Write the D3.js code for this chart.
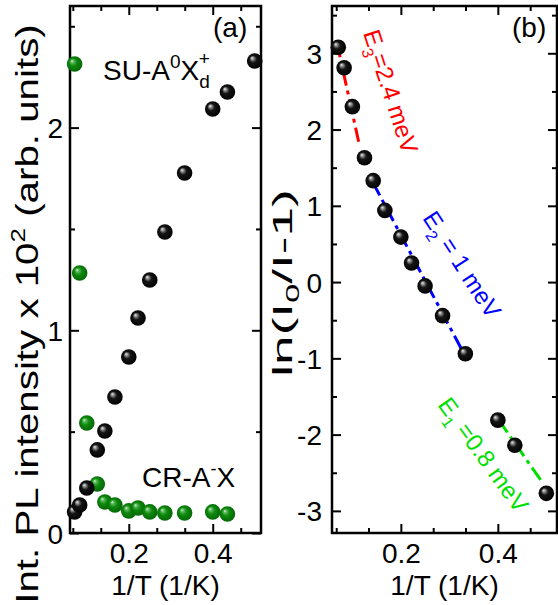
<!DOCTYPE html>
<html>
<head>
<meta charset="utf-8">
<script src="https://cdn.jsdelivr.net/npm/d3@7"></script>
<style>
  html, body { margin: 0; padding: 0; background: #fff; }
  svg { display: block; }
  text { font-family: "Liberation Sans", Arial, sans-serif; fill: #000; }
</style>
</head>
<body>
<svg id="chart" width="558" height="605"></svg>
<script>
// ---------- data ----------
const invT      = [0.071, 0.083, 0.100, 0.125, 0.143, 0.167, 0.200, 0.222, 0.250, 0.286, 0.333, 0.400, 0.435, 0.500];
const suA0X     = [0.104, 0.138, 0.222, 0.410, 0.503, 0.671, 0.868, 1.061, 1.248, 1.485, 1.776, 2.092, 2.176, 2.329];
const invTGreen = [0.071, 0.083, 0.100, 0.125, 0.143, 0.167, 0.200, 0.222, 0.250, 0.286, 0.333, 0.400, 0.435];
const crAX      = [2.314, 1.283, 0.543, 0.242, 0.153, 0.138, 0.109, 0.123, 0.104, 0.099, 0.099, 0.104, 0.094];
const lnRatio   = [3.08, 2.81, 2.30, 1.63, 1.33, 0.94, 0.59, 0.25, -0.05, -0.44, -0.94, -1.81, -2.14, -2.77];
const fitE3 = {x: [0.068, 0.113], y: [3.14, 1.84]};
const fitE2 = {x: [0.142, 0.326], y: [1.31, -0.89]};
const fitE1 = {x: [0.402, 0.491], y: [-1.81, -2.62]};
const xMajorTicks = [0.2, 0.4];
const xMinorTicks = [0.0667, 0.1333, 0.2667, 0.3333, 0.4667, 0.5333];
const yTicksA = [0, 1, 2];
const yMinorA = [0.5, 1.5, 2.5];
const yTicksB = [-3, -2, -1, 0, 1, 2, 3];
const yMinorB = [-2.5, -1.5, -0.5, 0.5, 1.5, 2.5, 3.5];

// ---------- setup ----------
const svg = d3.select("#chart");
const defs = svg.append("defs");
function sphereGrad(id, stops) {
  const g = defs.append("radialGradient").attr("id", id)
    .attr("cx", "0.5").attr("cy", "0.5").attr("r", "0.55")
    .attr("fx", "0.32").attr("fy", "0.3");
  stops.forEach(s => g.append("stop").attr("offset", s[0]).attr("stop-color", s[1]));
}
sphereGrad("gBlack", [[0, "#f0f0f0"], [0.18, "#8a8a8a"], [0.42, "#151515"], [1, "#000"]]);
sphereGrad("gGreen", [[0, "#d8f5d8"], [0.18, "#5cb85c"], [0.45, "#0d8a0d"], [1, "#056205"]]);

const FONT = 28;
const R = 7.8;

function panel(o) {
  const g = svg.append("g");
  const x = d3.scaleLinear().domain(o.xDom).range([o.left, o.right]);
  const y = d3.scaleLinear().domain(o.yDom).range([o.bottom, o.top]);
  const H = o.bottom - o.top, W = o.right - o.left;

  const styleAxis = sel => {
    sel.select(".domain").remove();
    sel.selectAll(".tick line").attr("stroke", "#000").attr("stroke-width", 2);
  };
  const xMin = xMinorTicks.filter(v => v > o.xDom[0] && v < o.xDom[1]);
  const yMin = o.yMinor.filter(v => v > o.yDom[0] && v < o.yDom[1]);
  g.append("g").attr("transform", `translate(0,${o.bottom})`)
    .call(d3.axisBottom(x).tickValues(xMajorTicks).tickSize(-9).tickPadding(9).tickFormat(d3.format(".1f")))
    .call(styleAxis)
    .selectAll("text").attr("font-size", FONT).attr("dy", "0.75em");
  g.append("g").attr("transform", `translate(0,${o.bottom})`)
    .call(d3.axisBottom(x).tickValues(xMin).tickSize(-5).tickFormat(""))
    .call(styleAxis);
  g.append("g").attr("transform", `translate(0,${o.top})`)
    .call(d3.axisTop(x).tickValues(xMajorTicks).tickSize(-9).tickFormat(""))
    .call(styleAxis);
  g.append("g").attr("transform", `translate(0,${o.top})`)
    .call(d3.axisTop(x).tickValues(xMin).tickSize(-5).tickFormat(""))
    .call(styleAxis);

  g.append("g").attr("transform", `translate(${o.left},0)`)
    .call(d3.axisLeft(y).tickValues(o.yTicks).tickSize(-9).tickPadding(o.yPad).tickFormat(d => String(d)))
    .call(styleAxis)
    .selectAll("text").attr("font-size", FONT).attr("dy", "0.36em");
  g.append("g").attr("transform", `translate(${o.left},0)`)
    .call(d3.axisLeft(y).tickValues(yMin).tickSize(-5).tickFormat(""))
    .call(styleAxis);
  g.append("g").attr("transform", `translate(${o.right},0)`)
    .call(d3.axisRight(y).tickValues(o.yTicks).tickSize(-9).tickFormat(""))
    .call(styleAxis);
  g.append("g").attr("transform", `translate(${o.right},0)`)
    .call(d3.axisRight(y).tickValues(yMin).tickSize(-5).tickFormat(""))
    .call(styleAxis);

  g.append("rect").attr("x", o.left).attr("y", o.top).attr("width", W).attr("height", H)
    .attr("fill", "none").attr("stroke", "#000").attr("stroke-width", 2.5);

  g.append("text").attr("x", (o.left + o.right) / 2).attr("y", 595)
    .attr("text-anchor", "middle").attr("font-size", FONT).text("1/T (1/K)");
  return {g, x, y};
}

// ---------- panel (a) ----------
const A = panel({xDom: [0.06, 0.515], yDom: [0, 2.6], left: 70, right: 261, top: 6, bottom: 533,
  yTicks: yTicksA, yMinor: yMinorA, yPad: 7});

A.g.append("g").selectAll("circle").data(invTGreen.map((v, i) => [v, crAX[i]])).join("circle")
  .attr("cx", d => A.x(d[0])).attr("cy", d => A.y(d[1])).attr("r", R).attr("fill", "url(#gGreen)");
A.g.append("g").selectAll("circle").data(invT.map((v, i) => [v, suA0X[i]])).join("circle")
  .attr("cx", d => A.x(d[0])).attr("cy", d => A.y(d[1])).attr("r", R).attr("fill", "url(#gBlack)");

// y title (a)
const yt = A.g.append("text").attr("transform", "translate(38,314) rotate(-90) scale(1.3,1)")
  .attr("text-anchor", "middle").attr("font-size", 31);
yt.append("tspan").text("Int. PL intensity x 10");
yt.append("tspan").attr("font-size", 20).attr("dy", -13).text("2");
yt.append("tspan").attr("dy", 13).text(" (arb. units)");

// labels (a)
const su = A.g.append("text").attr("x", 103).attr("y", 80).attr("font-size", FONT);
su.append("tspan").text("SU-A");
su.append("tspan").attr("font-size", 19).attr("dy", -12).text("0");
su.append("tspan").attr("dy", 12).text("X");
su.append("tspan").attr("font-size", 19).attr("dy", 8).text("d");
su.append("tspan").attr("font-size", 19).attr("dx", -11).attr("dy", -23).text("+");

const cr = A.g.append("text").attr("x", 142).attr("y", 487).attr("font-size", FONT);
cr.append("tspan").text("CR-A");
cr.append("tspan").attr("font-size", 18).attr("dy", -12).text("-");
cr.append("tspan").attr("dy", 12).text("X");

A.g.append("text").attr("x", 213).attr("y", 37).attr("font-size", FONT).text("(a)");

// ---------- panel (b) ----------
const B = panel({xDom: [0.058, 0.522], yDom: [-3.29, 3.62], left: 332, right: 557, top: 6, bottom: 533,
  yTicks: yTicksB, yMinor: yMinorB, yPad: 10});

const line = d3.line().x(d => B.x(d[0])).y(d => B.y(d[1]));
[[fitE3, "#ff0000"], [fitE2, "#0000ff"], [fitE1, "#00e000"]].forEach(([f, c]) => {
  B.g.append("path").datum(f.x.map((v, i) => [v, f.y[i]])).attr("d", line)
    .attr("fill", "none").attr("stroke", c).attr("stroke-width", 3)
    .attr("stroke-dasharray", "15,5,4,5");
});

B.g.append("g").selectAll("circle").data(invT.map((v, i) => [v, lnRatio[i]])).join("circle")
  .attr("cx", d => B.x(d[0])).attr("cy", d => B.y(d[1])).attr("r", R).attr("fill", "url(#gBlack)");

function rotLabel(x, y, ang, color, sub, rest) {
  const t = B.g.append("text").attr("transform", `translate(${x},${y}) rotate(${ang})`)
    .attr("font-size", 24).style("fill", color);
  t.append("tspan").text("E");
  t.append("tspan").attr("font-size", 16).attr("dy", 7).text(sub);
  t.append("tspan").attr("dy", -7).text(rest);
}
rotLabel(363, 33, 72, "#ff0000", "3", "=2.4 meV");
rotLabel(422, 218, 57, "#0000ff", "2", " = 1 meV");
rotLabel(437, 405, 54, "#00e000", "1", " =0.8 meV");

// y title (b)
const yb = B.g.append("text").attr("transform", "translate(292,283) rotate(-90) scale(1.9,1)")
  .attr("text-anchor", "middle").attr("font-size", FONT);
yb.append("tspan").text("ln(I");
yb.append("tspan").attr("font-size", 18).attr("dy", 7).text("0");
yb.append("tspan").attr("dy", -7).text("/I-1)");

B.g.append("text").attr("x", 512).attr("y", 37).attr("font-size", FONT).text("(b)");
</script>
</body>
</html>
